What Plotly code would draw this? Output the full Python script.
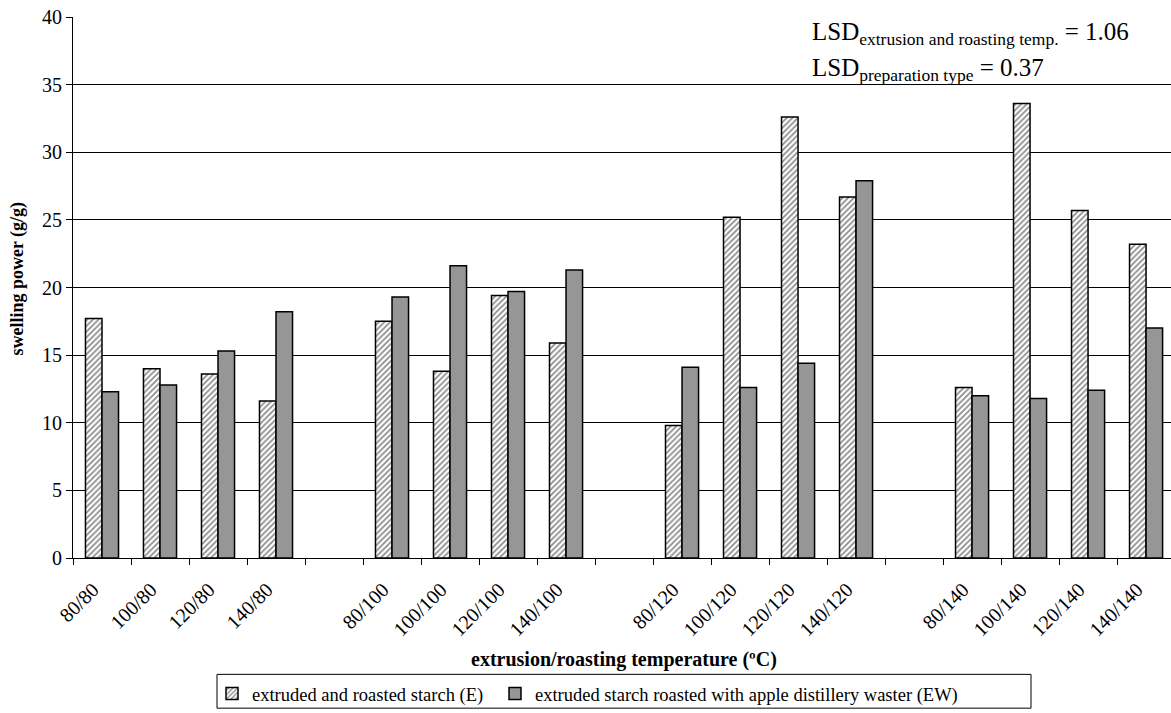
import plotly.graph_objects as go

# Extrusion/roasting temperature combinations, grouped by roasting temperature
roasting_groups = ["80", "100", "120", "140"]
extrusion_temps = ["80", "100", "120", "140"]
categories = [f"{e}/{r}" for r in roasting_groups for e in extrusion_temps]

# Swelling power (g/g)
extruded_roasted = [
    17.7, 14.0, 13.6, 11.6,
    17.5, 13.8, 19.4, 15.9,
    9.8, 25.2, 32.6, 26.7,
    12.6, 33.6, 25.7, 23.2,
]
roasted_with_waste = [
    12.3, 12.8, 15.3, 18.2,
    19.3, 21.6, 19.7, 21.3,
    14.1, 12.6, 14.4, 27.9,
    12.0, 11.8, 12.4, 17.0,
]

series_names = [
    "extruded and roasted starch (E)",
    "extruded starch roasted with apple distillery waster (EW)",
]

lsd_lines = [
    ("extrusion and roasting temp.", 1.06),
    ("preparation type", 0.37),
]

FONT = "Liberation Serif, Times New Roman, serif"

# Plot area in pixels, used to place the legend frame in paper units
PLOT_L, PLOT_W, PLOT_B, PLOT_H = 73, 1098, 561, 544


def px_x(px):
    return (px - PLOT_L) / PLOT_W


def px_y(py):
    return (PLOT_B - py) / PLOT_H


# One empty slot between roasting groups
group_size = len(extrusion_temps)
x_pos = [g * (group_size + 1) + i
         for g in range(len(roasting_groups)) for i in range(group_size)]
n_slots = len(roasting_groups) * (group_size + 1) - 1
slot_edges = [k - 0.5 for k in range(n_slots + 1)]

fig = go.Figure()
fig.add_trace(go.Bar(
    x=x_pos, y=extruded_roasted, name=series_names[0], legend="legend",
    marker=dict(
        color="white",
        line=dict(color="black", width=1.5),
        pattern=dict(shape="/", fgcolor="#1a1a1a", bgcolor="white",
                     size=4, solidity=0.45),
    ),
))
fig.add_trace(go.Bar(
    x=x_pos, y=roasted_with_waste, name=series_names[1], legend="legend2",
    marker=dict(color="#969696", line=dict(color="black", width=1.5)),
))

# LSD statements in the upper-right corner
lsd_y = [38.8, 36.1]
for (label, val), yv in zip(lsd_lines, lsd_y):
    fig.add_annotation(
        x=0.671, xref="paper", xanchor="left",
        y=yv, yref="y", yanchor="middle",
        text=f"LSD<sub>{label}</sub> = {val:.2f}",
        showarrow=False, font=dict(family=FONT, size=25, color="black"),
    )

# Axis titles
fig.add_annotation(
    x=0.5015, xref="paper", xanchor="center",
    y=-0.1875, yref="paper", yanchor="middle",
    text="<b>extrusion/roasting temperature (ºC)</b>",
    showarrow=False, font=dict(family=FONT, size=20, color="black"),
)
fig.add_annotation(
    x=-0.0501, xref="paper", xanchor="center",
    y=0.5165, yref="paper", yanchor="middle",
    text="<b>swelling power (g/g)</b>", textangle=-90,
    showarrow=False, font=dict(family=FONT, size=18, color="black"),
)

# Frame around the two legend entries
fig.add_shape(
    type="rect", xref="paper", yref="paper",
    x0=px_x(217), x1=px_x(1031), y0=px_y(678), y1=px_y(712),
    line=dict(color="black", width=1), fillcolor="white", layer="below",
)

legend_common = dict(
    orientation="h", yanchor="top", y=px_y(679), xanchor="left",
    bgcolor="rgba(0,0,0,0)", borderwidth=0, itemwidth=30,
    font=dict(family=FONT, size=18.5, color="black"),
)

fig.update_layout(
    width=1171, height=713,
    margin=dict(l=73, r=0, t=17, b=152),
    paper_bgcolor="white", plot_bgcolor="white",
    barmode="group", bargap=0.43, bargroupgap=0,
    font=dict(family=FONT, size=18.5, color="black"),
    showlegend=True,
    legend=dict(legend_common, x=px_x(212)),
    legend2=dict(legend_common, x=px_x(495)),
    xaxis=dict(
        range=[-0.5, n_slots - 0.57],
        tickmode="array", tickvals=x_pos, ticktext=categories,
        ticks="", tickangle=-45, ticklabelstandoff=11, ticklabelshift=-9,
        minor=dict(tickmode="array", tickvals=slot_edges, ticks="outside",
                   ticklen=6, tickcolor="black", showgrid=False),
        showline=True, linecolor="black", linewidth=1,
        showgrid=False, zeroline=False, tickfont=dict(family=FONT, size=20),
    ),
    yaxis=dict(
        range=[0, 40], dtick=5, ticks="outside", ticklen=6, tickcolor="black",
        showline=True, linecolor="black", linewidth=1,
        showgrid=True, gridcolor="black", gridwidth=1, zeroline=False,
        tickfont=dict(family=FONT, size=20),
    ),
)

fig.write_html("out.html")
